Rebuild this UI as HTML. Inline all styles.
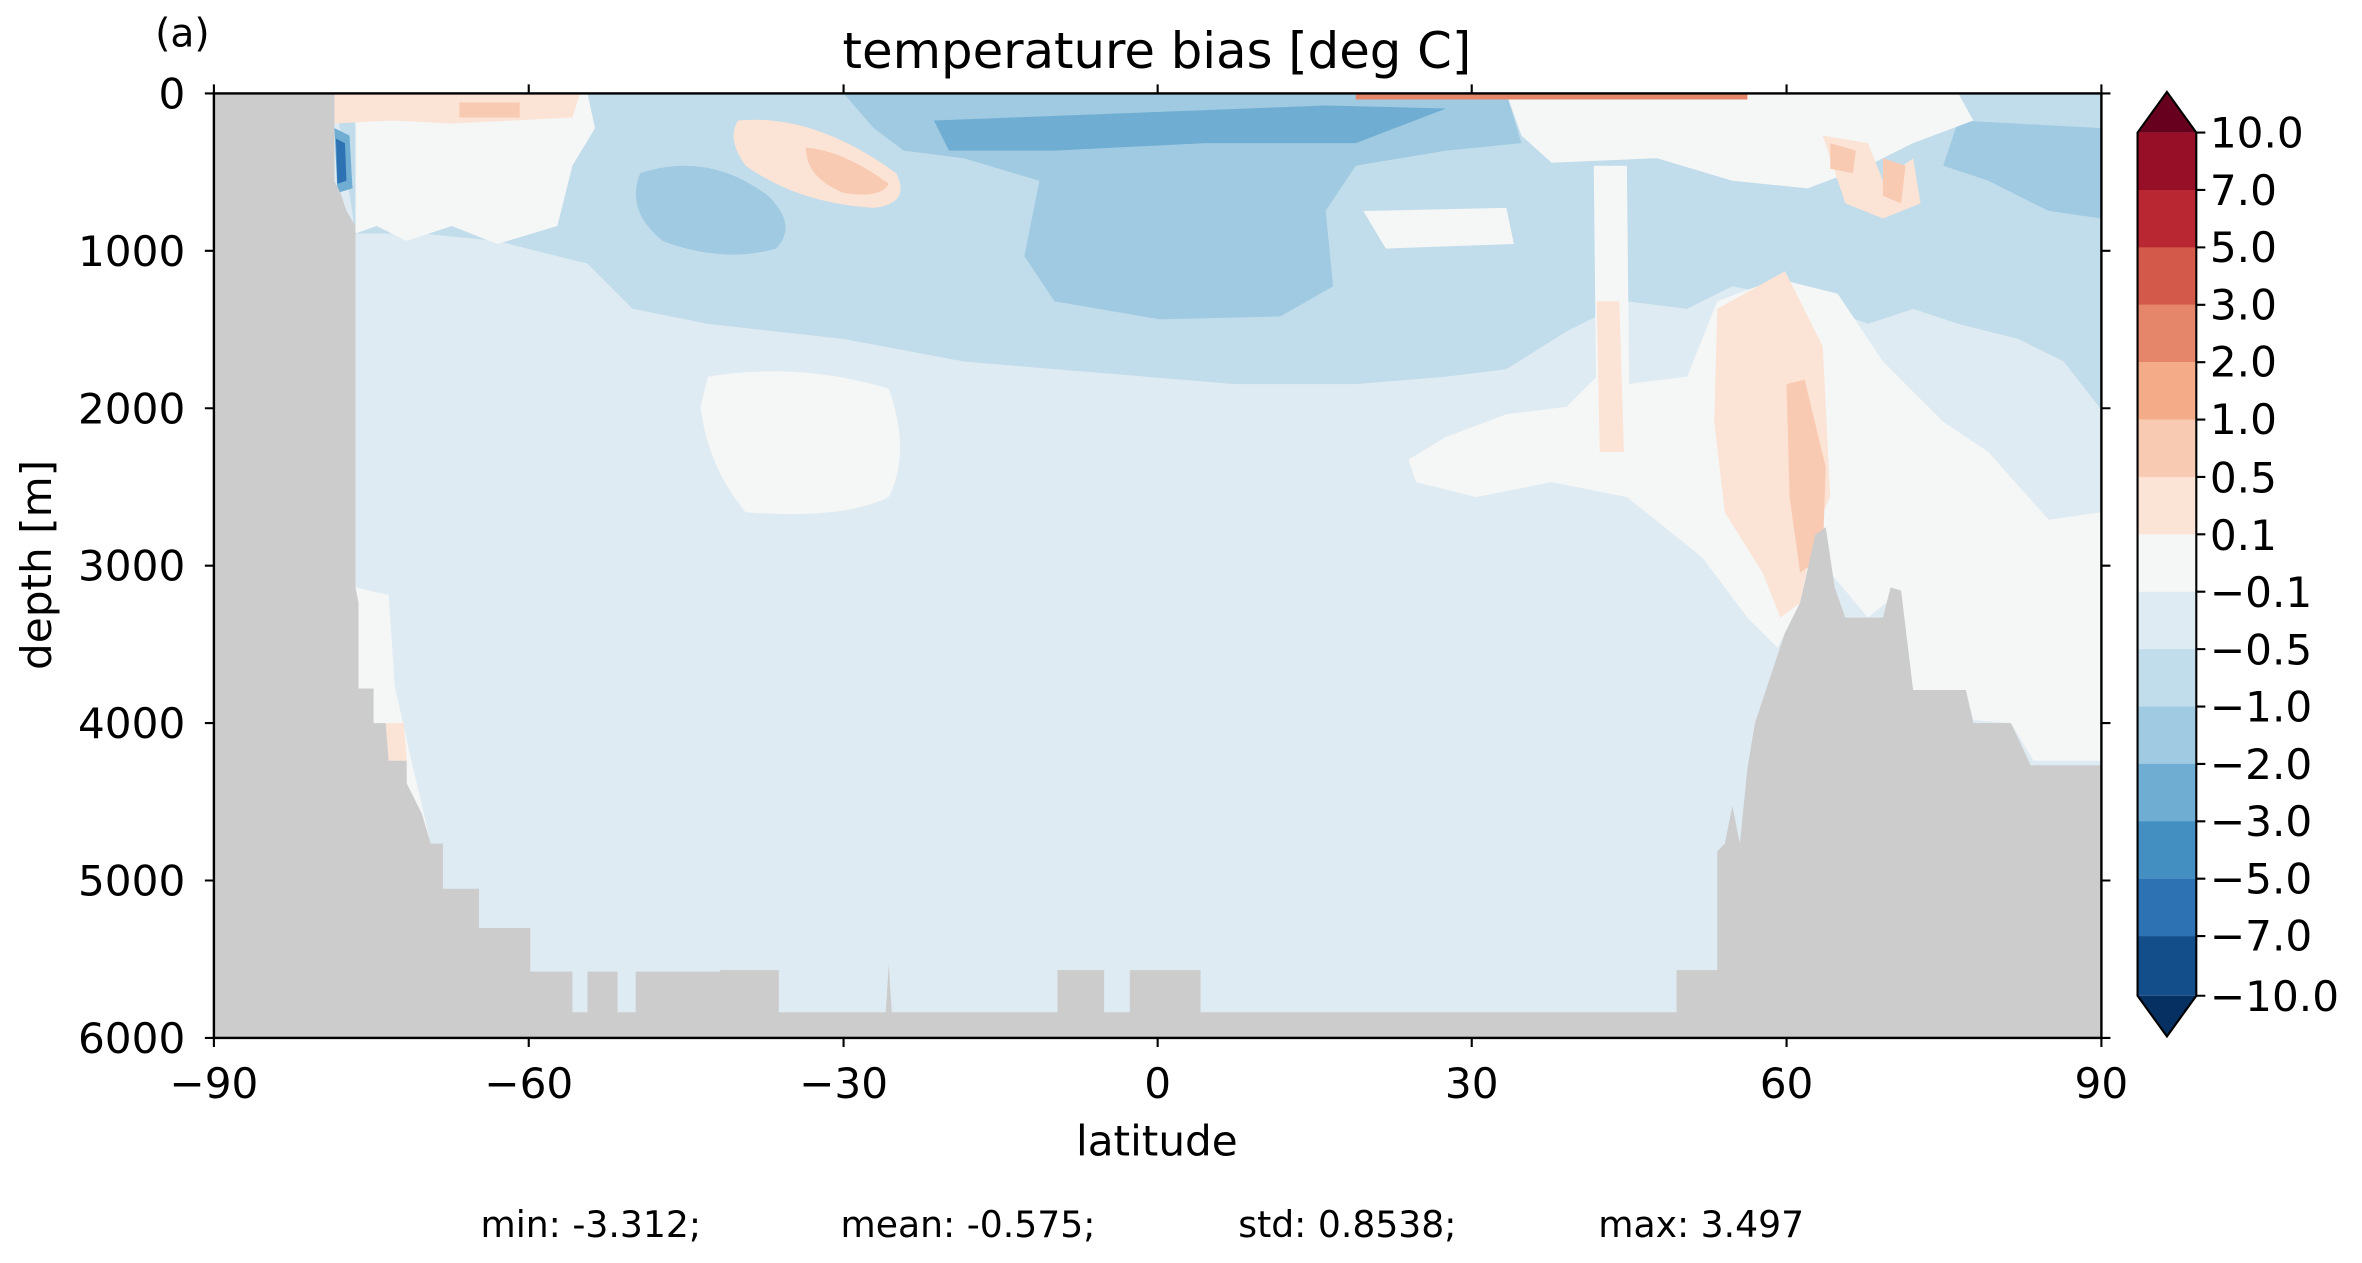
<!DOCTYPE html>
<html><head><meta charset="utf-8"><style>html,body{margin:0;padding:0;background:#fff}svg{display:block}text{font-family:"DejaVu Sans","Liberation Sans",sans-serif;fill:#000}</style></head>
<body>
<svg width="2362" height="1263" viewBox="0 0 1568 838.4" xmlns="http://www.w3.org/2000/svg">
<defs><clipPath id="c"><rect x="142" y="62" width="1253" height="627"/></clipPath></defs>
<g clip-path="url(#c)">
<rect x="142" y="62" width="1253" height="627" fill="#dfebf2"/>
<path fill="#c1dcea" d="M222,62 L1395,62 L1395,272 L1370,240 L1340,225 L1300,215 L1270,205 L1240,215 L1200,200 L1150,190 L1120,205 L1080,200 L1040,220 L1000,245 L960,250 L900,255 L820,255 L760,250 L700,245 L640,240 L560,225 L470,215 L420,205 L390,175 L330,160 L280,155 L236,155 Z"/>
<path fill="#9fcae1" d="M425,115 Q470,100 510,130 Q530,150 515,165 Q480,175 440,160 Q415,140 425,115Z"/>
<path fill="#9fcae1" d="M560,62 L1000,62 L1010,95 L960,100 L900,110 L880,140 L885,190 L850,210 L770,212 L700,200 L680,170 L690,120 L640,105 L600,100 L580,85Z"/>
<path fill="#9fcae1" d="M1300,80 L1395,85 L1395,145 L1360,140 L1320,120 L1290,110Z"/>
<path fill="#9fcae1" d="M1180,75 L1215,72 L1210,110 L1185,105Z"/>
<path fill="#6fadd2" d="M620,80 L880,70 L960,72 L900,95 L800,95 L700,100 L630,100Z"/>
<path fill="#6fadd2" d="M222,85 L232,90 L234,125 L224,128Z"/>
<path fill="#f5f6f6" d="M236,62 L390,62 L395,85 L380,110 L370,150 L330,162 L300,150 L270,160 L250,150 L236,155Z"/>
<path fill="#f5f6f6" d="M470,250 Q530,240 590,258 Q605,300 590,330 Q560,345 495,340 Q470,310 465,270Z"/>
<path fill="#f5f6f6" d="M960,290 L1000,275 L1040,270 L1060,250 L1080,255 L1120,250 L1140,200 L1180,185 L1220,195 L1250,240 L1290,280 L1320,300 L1360,345 L1395,340 L1395,505 L1350,505 L1335,480 L1310,478 L1305,458 L1270,458 L1262,392 L1240,410 L1215,380 L1195,400 L1180,430 L1160,410 L1130,370 L1080,330 L1030,320 L980,330 L940,320 L935,305Z"/>
<path fill="#f5f6f6" d="M1000,62 L1300,62 L1310,80 L1270,95 L1240,110 L1200,125 L1150,120 L1100,105 L1030,108 L1010,90Z"/>
<path fill="#f5f6f6" d="M905,140 L1000,138 L1005,162 L920,165Z"/>
<path fill="#f5f6f6" d="M1058,110 L1080,110 L1082,300 L1060,300Z"/>
<path fill="#f5f6f6" d="M236,390 L258,395 L262,455 L272,500 L286,560 L280,560 L270,520 L248,480 L238,457Z"/>
<path fill="#fbe3d6" d="M222,62 L385,62 L380,78 L300,82 L260,80 L222,82Z"/>
<path fill="#fbe3d6" d="M490,80 Q540,75 595,115 Q605,135 580,138 Q530,135 495,110 Q482,92 490,80Z"/>
<path fill="#fbe3d6" d="M1140,205 L1185,180 L1210,230 L1215,330 L1205,350 L1195,400 L1182,410 L1170,380 L1145,340 L1138,280Z"/>
<path fill="#fbe3d6" d="M1060,200 L1075,200 L1078,300 L1062,300Z"/>
<path fill="#fbe3d6" d="M1210,90 L1240,95 L1250,120 L1270,105 L1275,135 L1250,145 L1225,135 Z"/>
<path fill="#fbe3d6" d="M1228,410 L1248,410 L1248,432 L1230,432Z"/>
<path fill="#fbe3d6" d="M256,480 L268,480 L270,505 L258,505Z"/>
<path fill="#f9cab2" d="M535,98 Q560,100 590,122 Q585,132 560,128 Q535,118 535,98Z"/>
<path fill="#f9cab2" d="M305,68 L345,68 L345,78 L305,78Z"/>
<path fill="#f9cab2" d="M1186,255 L1198,252 L1212,310 L1210,370 L1195,380 L1188,330Z"/>
<path fill="#f9cab2" d="M1215,95 L1232,100 L1230,115 L1215,112Z M1250,105 L1265,110 L1262,135 L1250,130Z"/>
<path fill="#e5866a" d="M900,62 L1160,62 L1160,66 L900,66Z"/>
<path fill="#2d73b4" d="M223,92 L229,95 L230,120 L224,122Z"/>
<path fill="#cccccc" d="M142,62 L222,62 L222,120 L226,128 L230,140 L236,150 L236,390 L238,400 L238,457 L248,457 L248,480 L256,480 L258,505 L270,505 L270,520 L280,540 L286,560 L294,560 L294,590 L318,590 L318,616 L352,616 L352,645 L380,645 L380,672 L390,672 L390,645 L410,645 L410,672 L422,672 L422,645 L478,645 L478,644 L517,644 L517,672 L588,672 L590,640 L592,672 L702,672 L702,644 L733,644 L733,672 L750,672 L750,644 L797,644 L797,672 L1113,672 L1113,644 L1140,644 L1140,565 L1145,560 L1150,535 L1155,560 L1160,510 L1165,480 L1180,435 L1185,420 L1195,400 L1205,355 L1212,350 L1218,390 L1225,410 L1250,410 L1255,390 L1262,392 L1270,458 L1305,458 L1310,480 L1335,480 L1348,508 L1395,508 L1395,689 L142,689Z"/>
</g>
<rect x="142" y="62" width="1253" height="627" fill="none" stroke="#000" stroke-width="1.6"/>
<g stroke="#000" stroke-width="1.4">
<path d="M142,62h-6M142,166.5h-6M142,271h-6M142,375.5h-6M142,480h-6M142,584.5h-6M142,689h-6"/>
<path d="M1395,62h6M1395,166.5h6M1395,271h6M1395,375.5h6M1395,480h6M1395,584.5h6M1395,689h6"/>
<path d="M142,689v6M351,689v6M560,689v6M768.5,689v6M977,689v6M1186,689v6M1395,689v6"/>
<path d="M142,62v-6M351,62v-6M560,62v-6M768.5,62v-6M977,62v-6M1186,62v-6M1395,62v-6"/>
</g>
<g font-size="28" text-anchor="end">
<text x="123" y="72">0</text><text x="123" y="176.5">1000</text><text x="123" y="281">2000</text><text x="123" y="385.5">3000</text><text x="123" y="490">4000</text><text x="123" y="594.5">5000</text><text x="123" y="699">6000</text>
</g>
<g font-size="28" text-anchor="middle">
<text x="142" y="729">−90</text><text x="351" y="729">−60</text><text x="560" y="729">−30</text><text x="768.5" y="729">0</text><text x="977" y="729">30</text><text x="1186" y="729">60</text><text x="1395" y="729">90</text>
<text x="768" y="767">latitude</text>
<text x="768" y="45" font-size="33">temperature bias [deg C]</text>
<text x="34" y="375" transform="rotate(-90 34 375)">depth [m]</text>
</g>
<text x="103" y="31" font-size="26">(a)</text>
<g font-size="24">
<text x="319" y="821">min: -3.312;</text><text x="558" y="821">mean: -0.575;</text><text x="822" y="821">std: 0.8538;</text><text x="1061" y="821">max: 3.497</text>
</g>
<g>
<path d="M1419,88 L1438.5,61 L1458,88Z" fill="#67001f"/>
<rect x="1419" y="88" width="39" height="38.2" fill="#960f27"/>
<rect x="1419" y="126.1" width="39" height="38.2" fill="#b92732"/>
<rect x="1419" y="164.2" width="39" height="38.2" fill="#d35a4a"/>
<rect x="1419" y="202.3" width="39" height="38.2" fill="#e5866a"/>
<rect x="1419" y="240.4" width="39" height="38.2" fill="#f4ab88"/>
<rect x="1419" y="278.5" width="39" height="38.2" fill="#f9cab2"/>
<rect x="1419" y="316.6" width="39" height="38.2" fill="#fbe3d6"/>
<rect x="1419" y="354.7" width="39" height="38.2" fill="#f5f6f6"/>
<rect x="1419" y="392.8" width="39" height="38.2" fill="#dfebf2"/>
<rect x="1419" y="430.9" width="39" height="38.2" fill="#c1dcea"/>
<rect x="1419" y="469" width="39" height="38.2" fill="#9fcae1"/>
<rect x="1419" y="507.1" width="39" height="38.2" fill="#6fadd2"/>
<rect x="1419" y="545.2" width="39" height="38.2" fill="#438fc2"/>
<rect x="1419" y="583.3" width="39" height="38.2" fill="#2d73b4"/>
<rect x="1419" y="621.4" width="39" height="39.6" fill="#144e8a"/>
<path d="M1419,661 L1438.5,688 L1458,661Z" fill="#053061"/>
<path d="M1419,88 L1438.5,61 L1458,88 L1458,661 L1438.5,688 L1419,661Z" fill="none" stroke="#000" stroke-width="1.4"/>
<path stroke="#000" stroke-width="1.4" d="M1458,88h6M1458,126.1h6M1458,164.2h6M1458,202.3h6M1458,240.4h6M1458,278.5h6M1458,316.6h6M1458,354.7h6M1458,392.8h6M1458,430.9h6M1458,469h6M1458,507.1h6M1458,545.2h6M1458,583.3h6M1458,621.4h6M1458,661h6"/>
<g font-size="28">
<text x="1467" y="98">10.0</text><text x="1467" y="136">7.0</text><text x="1467" y="174">5.0</text><text x="1467" y="212">3.0</text><text x="1467" y="250">2.0</text><text x="1467" y="288">1.0</text><text x="1467" y="327">0.5</text><text x="1467" y="365">0.1</text><text x="1467" y="403">−0.1</text><text x="1467" y="441">−0.5</text><text x="1467" y="479">−1.0</text><text x="1467" y="517">−2.0</text><text x="1467" y="555">−3.0</text><text x="1467" y="593">−5.0</text><text x="1467" y="631">−7.0</text><text x="1467" y="671">−10.0</text>
</g>
</g>
</svg>
</body></html>
